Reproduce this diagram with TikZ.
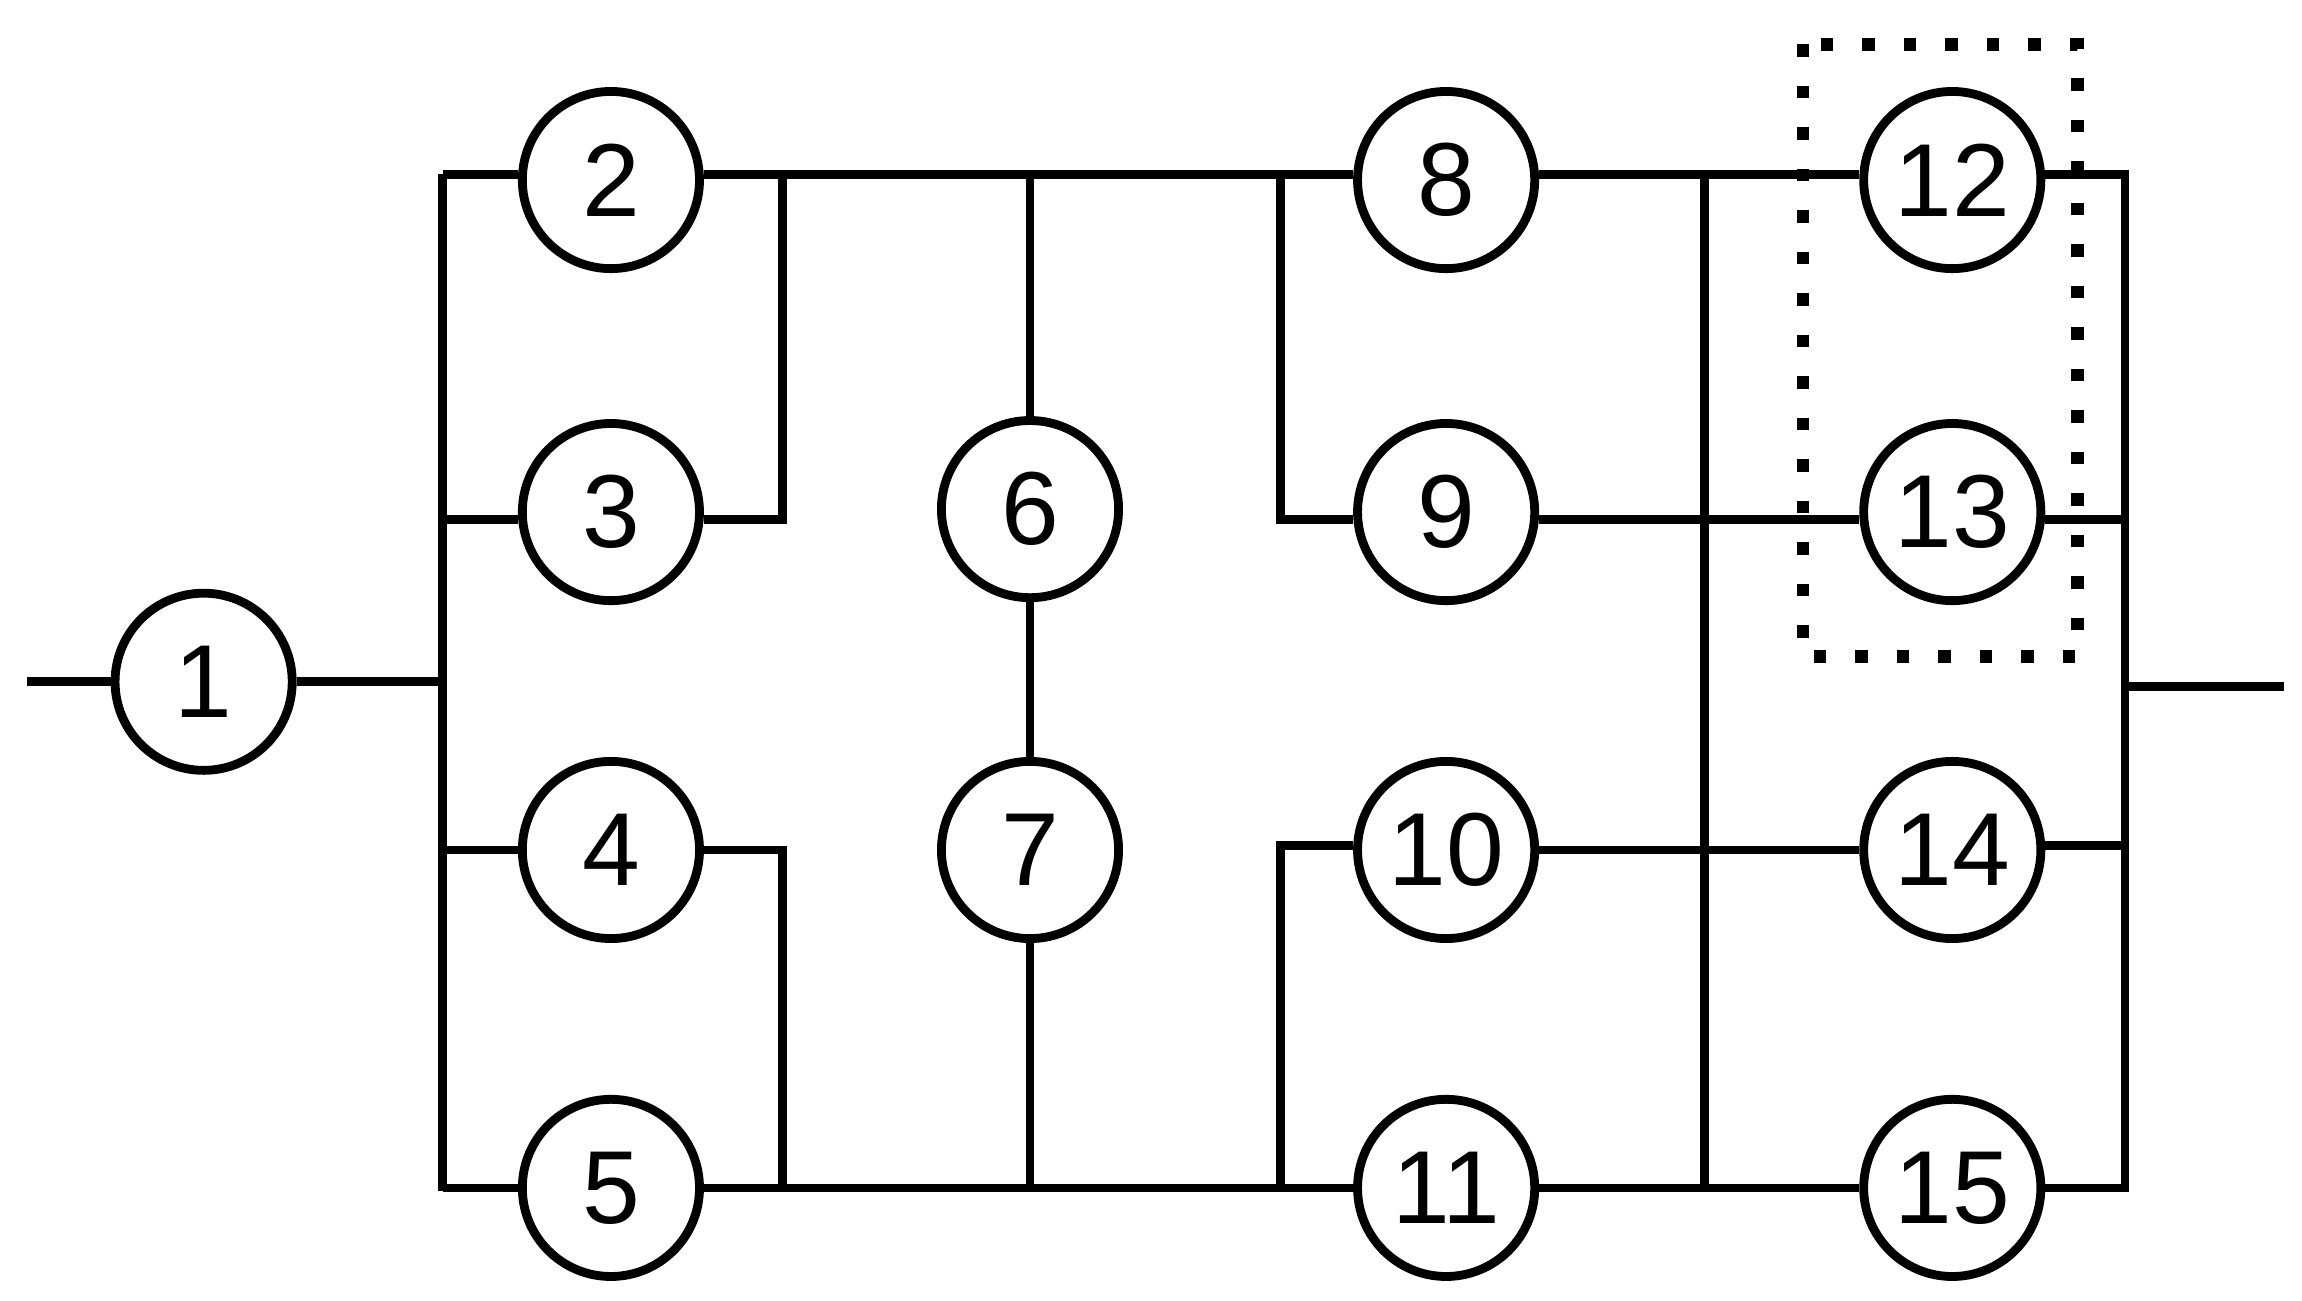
\documentclass[tikz,border=0pt]{standalone}
\usepackage{fontspec}
\setmainfont{Liberation Sans}
\begin{document}
\begin{tikzpicture}[x=0.01cm,y=-0.01cm,line width=1.7pt,
  blk/.style={circle,draw,line width=1.7pt,minimum size=1.2cm,inner sep=0pt,font=\fontsize{20}{20}\selectfont}]
\useasboundingbox (0,0) rectangle (1560,881);
\node[blk] (n1) at (138,462) {1};
\node[blk] (n2) at (414,122) {2};
\node[blk] (n3) at (414,347) {3};
\node[blk] (n4) at (414,576) {4};
\node[blk] (n5) at (414,805) {5};
\node[blk] (n6) at (698,345) {6};
\node[blk] (n7) at (698,576) {7};
\node[blk] (n8) at (980,122) {8};
\node[blk] (n9) at (980,347) {9};
\node[blk] (n10) at (980,576) {10};
\node[blk] (n11) at (980,805) {11};
\node[blk] (n12) at (1323,122) {12};
\node[blk] (n13) at (1323,347) {13};
\node[blk] (n14) at (1323,576) {14};
\node[blk] (n15) at (1323,805) {15};
\coordinate (in) at (18,462);
\coordinate (out) at (1548,465);
\draw (in) -- (n1.west);
\draw (n1.east) -- (300,462);
\draw (300,118) -- (300,807);
\draw (300,118) -- (n2.west |- 0,118);
\draw (300,352) -- (n3.west |- 0,352);
\draw (300,576) -- (n4.west |- 0,576);
\draw (300,805) -- (n5.west |- 0,805);
\draw (n2.east |- 0,118) -- (n8.west |- 0,118);
\draw (n5.east |- 0,805) -- (n11.west |- 0,805);
\draw (530,118) -- (530,352) -- (n3.east |- 0,352);
\draw (n4.east |- 0,576) -- (530,576) -- (530,805);
\draw (698,118) -- (n6.north);
\draw (n6.south) -- (n7.north);
\draw (n7.south) -- (698,805);
\draw (868,118) -- (868,352) -- (n9.west |- 0,352);
\draw (n10.west |- 0,573) -- (868,573) -- (868,805);
\draw (n8.east |- 0,118) -- (n12.west |- 0,118);
\draw (n9.east |- 0,352) -- (n13.west |- 0,352);
\draw (n10.east |- 0,576) -- (n14.west |- 0,576);
\draw (n11.east |- 0,805) -- (n15.west |- 0,805);
\draw (1155,118) -- (1155,805);
\draw (n12.east |- 0,118) -- (1440,118) -- (1440,805) -- (n15.east |- 0,805);
\draw (n13.east |- 0,352) -- (1440,352);
\draw (n14.east |- 0,573) -- (1440,573);
\draw (1437,465) -- (out);
\draw[line width=2.4pt,dash pattern=on 2.4pt off 5.6pt] (1222,30) rectangle (1408,445);
\end{tikzpicture}
\end{document}
